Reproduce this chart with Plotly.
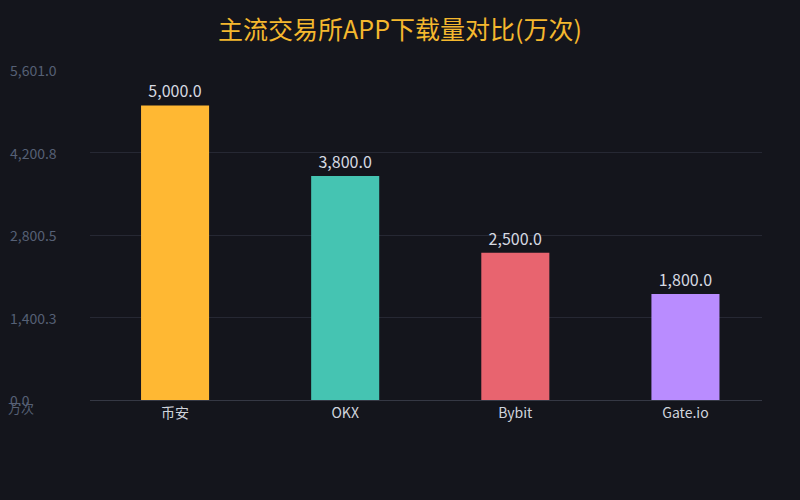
import plotly.graph_objects as go

categories = ["币安", "OKX", "Bybit", "Gate.io"]
downloads = [5000, 3800, 2500, 1800]
bar_colors = ["#FFB833", "#45C4B2", "#E8646F", "#B98CFF"]
tick_values = [0, 1400.3, 2800.5, 4200.8, 5601.0]
tick_labels = ["0.0", "1,400.3", "2,800.5", "4,200.8", "5,601.0"]

FONT = "Noto Sans CJK SC"
BG = "#14151c"

fig = go.Figure()
fig.add_trace(go.Bar(
    x=categories, y=downloads,
    marker=dict(color=bar_colors, line=dict(width=0)),
    width=0.4,
    texttemplate="%{y:,.1f}",
    textposition="outside",
    cliponaxis=False,
    textfont=dict(family=FONT, size=16, color="#d6dae2"),
    hoverinfo="skip",
))

annotations = []
for v, t in zip(tick_values, tick_labels):
    annotations.append(dict(
        x=-0.122, xref="paper", y=v, yref="y", text=t, showarrow=False,
        xanchor="left", yanchor="middle",
        font=dict(family=FONT, size=14, color="#566075"),
    ))
annotations.append(dict(
    x=-0.125, xref="paper", y=0, yref="y", text="万次", showarrow=False,
    xanchor="left", yanchor="top", yshift=4,
    font=dict(family=FONT, size=13, color="#566075"),
))

fig.update_layout(
    width=800, height=500,
    paper_bgcolor=BG, plot_bgcolor=BG,
    margin=dict(l=90, r=38, t=70, b=100),
    title=dict(text="主流交易所APP下载量对比(万次)", x=0.5, xanchor="center",
               y=0.94, yanchor="middle",
               font=dict(family=FONT, size=25, color="#F5B82E")),
    showlegend=False,
    xaxis=dict(showgrid=False, showline=True, linecolor="#353844", linewidth=1,
               range=[-0.5, 3.45],
               ticks="", tickfont=dict(family=FONT, size=14, color="#d0d4dc")),
    yaxis=dict(range=[0, 5601.0], tickvals=tick_values, showticklabels=False,
               showgrid=True, gridcolor="#262833", gridwidth=1, zeroline=False,
               showline=False, ticks=""),
    annotations=annotations,
)

fig.write_html("out.html")
